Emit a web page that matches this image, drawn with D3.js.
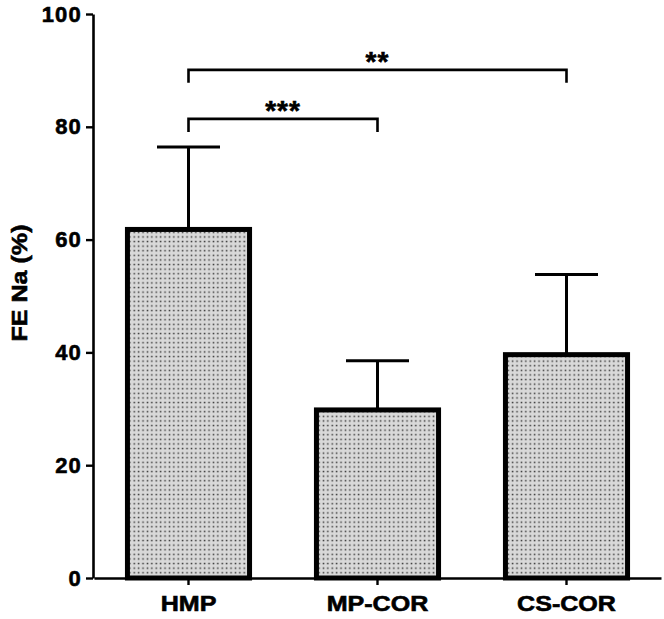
<!DOCTYPE html>
<html><head><meta charset="utf-8">
<script src="https://cdn.jsdelivr.net/npm/d3@7"></script>
<style>body{margin:0;background:#fff}svg{display:block}</style>
</head><body>
<script>
const categories = ["HMP", "MP-COR", "CS-COR"];
const means = [61.8, 29.8, 39.6];
const errors = [14.6, 8.7, 14.2];
const yTicks = [0, 20, 40, 60, 80, 100];
const comparisons = [
  {from: "HMP", to: "MP-COR", label: "***", level: 81.4},
  {from: "HMP", to: "CS-COR", label: "**", level: 90.1}
];

const W = 664, H = 619;
const FONT = "'Liberation Sans', Arial, Helvetica, sans-serif";
const svg = d3.select("body").append("svg").attr("width", W).attr("height", H)
  .style("font-family", FONT);

const defs = svg.append("defs");
const pat = defs.append("pattern").attr("id", "dots").attr("patternUnits", "userSpaceOnUse")
  .attr("width", 4.4).attr("height", 4.6);
pat.append("rect").attr("width", 4.4).attr("height", 4.6).attr("fill", "#d9d9d9");
pat.append("rect").attr("x", 1.5).attr("y", 1.6).attr("width", 1.5).attr("height", 1.5).attr("fill", "#383838");

const x = d3.scaleBand().domain(categories).range([94, 661]).paddingInner(0.354).paddingOuter(0.177);
const y = d3.scaleLinear().domain([0, 100]).range([578, 14]);

// bars
const g = svg.append("g");
categories.forEach((c, i) => {
  const cx = x(c) + x.bandwidth() / 2;
  g.append("line").attr("x1", cx).attr("x2", cx).attr("y1", y(means[i])).attr("y2", y(means[i] + errors[i]))
    .attr("stroke", "#000").attr("stroke-width", 3);
  g.append("line").attr("x1", cx - 31.5).attr("x2", cx + 31.5).attr("y1", y(means[i] + errors[i])).attr("y2", y(means[i] + errors[i]))
    .attr("stroke", "#000").attr("stroke-width", 3);
  g.append("rect").attr("x", x(c)).attr("width", x.bandwidth())
    .attr("y", y(means[i])).attr("height", y(0) - y(means[i]))
    .attr("fill", "url(#dots)").attr("stroke", "#000").attr("stroke-width", 5);
});

function styleText(sel, size, sx) {
  sel.attr("font-size", size).attr("font-weight", "bold").attr("fill", "#000")
    .attr("stroke", "#000").attr("stroke-width", 0.6)
    .attr("font-family", FONT);
}

// y axis
const ya = svg.append("g").attr("transform", "translate(93,0)")
  .call(d3.axisLeft(y).tickValues(yTicks).tickSize(7).tickPadding(4).tickSizeOuter(0));
ya.select(".domain").attr("stroke-width", 2.6);
ya.selectAll(".tick line").attr("stroke-width", 2.4);
styleText(ya.selectAll("text"), 22);
ya.selectAll("text").attr("letter-spacing", 1.2);

// x axis
const xa = svg.append("g").attr("transform", "translate(0,578)")
  .call(d3.axisBottom(x).tickSize(7).tickPadding(10.5).tickSizeOuter(0));
xa.select(".domain").attr("stroke-width", 2.6);
xa.selectAll(".tick line").attr("stroke-width", 2.4);
styleText(xa.selectAll("text"), 22);
xa.selectAll("text").attr("transform", "scale(1.14,1)");

// y title
const yt = svg.append("text").attr("transform", "translate(27,283) rotate(-90) scale(1.14,1)")
  .attr("text-anchor", "middle").text("FE Na (%)");
styleText(yt, 22);

// significance brackets
comparisons.forEach(cmp => {
  const x1 = x(cmp.from) + x.bandwidth() / 2, x2 = x(cmp.to) + x.bandwidth() / 2;
  const yy = y(cmp.level);
  svg.append("path").attr("d", `M${x1},${yy + 13}V${yy}H${x2}V${yy + 13}`)
    .attr("fill", "none").attr("stroke", "#000").attr("stroke-width", 2.6);
  const t = svg.append("text").attr("x", (x1 + x2) / 2).attr("y", yy + 1).attr("text-anchor", "middle")
    .attr("letter-spacing", 1).text(cmp.label);
  styleText(t, 28);
});
</script>
</body></html>
